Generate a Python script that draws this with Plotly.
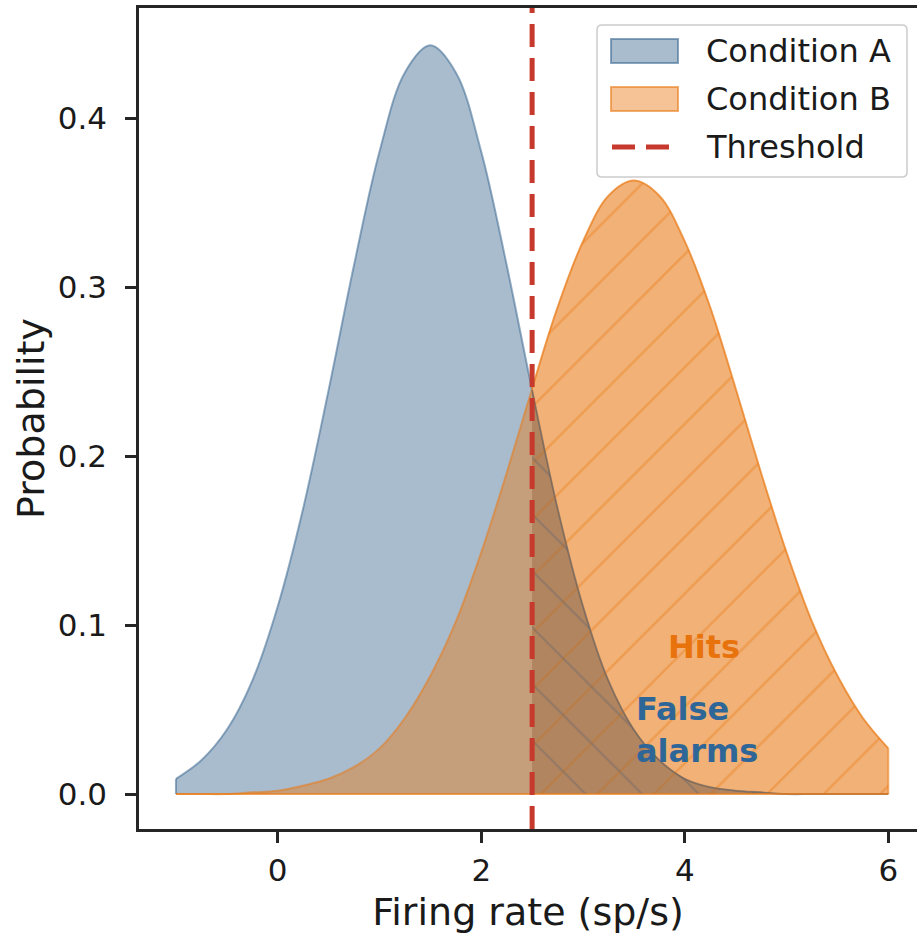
import plotly.graph_objects as go

# ---- data ----
x_vals = [-1.0, -0.75, -0.5, -0.25, 0.0, 0.25, 0.5, 0.75, 1.0, 1.25, 1.5, 1.75,
          2.0, 2.25, 2.5, 2.75, 3.0, 3.25, 3.5, 3.75, 4.0, 4.25, 4.5, 4.75,
          5.0, 5.25, 5.5, 5.75, 6.0]
cond_a = [0.009, 0.020, 0.038, 0.067, 0.111, 0.169, 0.239, 0.313, 0.380, 0.427,
          0.443, 0.427, 0.380, 0.313, 0.239, 0.169, 0.111, 0.067, 0.038, 0.020,
          0.009, 0.004, 0.002, 0.001, 0.000, 0.000, 0.000, 0.000, 0.000]
cond_b = [0.000, 0.000, 0.000, 0.001, 0.002, 0.005, 0.009, 0.016, 0.027, 0.045,
          0.070, 0.102, 0.143, 0.190, 0.240, 0.288, 0.327, 0.354, 0.363, 0.354,
          0.327, 0.288, 0.240, 0.190, 0.143, 0.102, 0.070, 0.045, 0.027]
threshold = 2.5
x_ticks = [0, 2, 4, 6]
y_ticks = [0.0, 0.1, 0.2, 0.3, 0.4]
series_names = ["Condition A", "Condition B", "Threshold"]
hits_label = "Hits"
fa_label = "False<br>alarms"
hits_pos = (4.19, 0.087)
fa_pos = (4.12, 0.038)

BLUE = (62, 106, 146)
ORANGE = (233, 122, 22)
RED = "#c8392d"
FONT = "DejaVu Sans"
DASH = "23px,11px"

# layout geometry (pixels)
W, H = 917, 941
ML, MR, MT, MB = 139, 0, 8, 112
PW, PH = W - ML - MR, H - MT - MB


def rgba(c, a):
    return f"rgba({c[0]},{c[1]},{c[2]},{a})"


def px(xp):
    return (xp - ML) / PW


def py(yp):
    return (H - MB - yp) / PH


x_hi = [x for x in x_vals if x >= threshold]
a_hi = [a for x, a in zip(x_vals, cond_a) if x >= threshold]
b_hi = [b for x, b in zip(x_vals, cond_b) if x >= threshold]

fig = go.Figure()

# full areas
fig.add_trace(go.Scatter(
    x=x_vals, y=cond_a, mode="lines", name=series_names[0],
    line=dict(color=rgba(BLUE, 0.55), width=2, shape="spline"),
    fill="tozeroy", fillcolor=rgba(BLUE, 0.45), hoverinfo="skip"))
fig.add_trace(go.Scatter(
    x=x_vals, y=cond_b, mode="lines", name=series_names[1],
    line=dict(color=rgba(ORANGE, 0.55), width=2, shape="spline"),
    fill="tozeroy", fillcolor=rgba(ORANGE, 0.45), hoverinfo="skip"))

# hatched regions beyond the threshold
fig.add_trace(go.Scatter(
    x=x_hi, y=b_hi, mode="lines", hoverinfo="skip",
    line=dict(color=rgba(ORANGE, 0.4), width=1.5, shape="spline"),
    fill="tozeroy", fillcolor=rgba(ORANGE, 0.25),
    fillpattern=dict(shape="/", size=40, solidity=0.06,
                     fgcolor=rgba(ORANGE, 0.8), bgcolor=rgba(ORANGE, 0.25),
                     fillmode="overlay")))
fig.add_trace(go.Scatter(
    x=x_hi, y=a_hi, mode="lines", hoverinfo="skip",
    line=dict(color="rgba(90,95,105,0.55)", width=1.5, shape="spline"),
    fill="tozeroy", fillcolor=rgba(BLUE, 0.3),
    fillpattern=dict(shape="\\", size=40, solidity=0.05,
                     fgcolor="rgba(85,95,110,0.7)", bgcolor="rgba(100,90,85,0.28)",
                     fillmode="overlay")))

# outline edges (vertical ends and baseline)
fig.add_trace(go.Scatter(
    x=[x_vals[0], x_vals[0]], y=[0, cond_a[0]], mode="lines",
    hoverinfo="skip", line=dict(color=rgba(BLUE, 0.55), width=2)))
fig.add_trace(go.Scatter(
    x=[x_vals[-1], x_vals[-1]], y=[0, cond_b[-1]], mode="lines",
    hoverinfo="skip", line=dict(color=rgba(ORANGE, 0.55), width=2)))
fig.add_trace(go.Scatter(
    x=[x_vals[0], x_vals[-1]], y=[0, 0], mode="lines",
    hoverinfo="skip", line=dict(color=rgba(ORANGE, 0.7), width=2)))

# threshold
fig.add_vline(x=threshold, line=dict(color=RED, width=5, dash=DASH))

fig.add_annotation(x=hits_pos[0], y=hits_pos[1], text=f"<b>{hits_label}</b>",
                   showarrow=False, xanchor="center", yanchor="middle",
                   font=dict(family=FONT, size=32, color="#e8720c"))
fig.add_annotation(x=fa_pos[0], y=fa_pos[1], text=f"<b>{fa_label}</b>",
                   showarrow=False, xanchor="center", yanchor="middle", align="left",
                   font=dict(family=FONT, size=32, color="#2f6698"))

# ---- legend (matplotlib-style box with patches) ----
bx0, bx1, by0, by1, rad = 597, 907, 25, 177, 5
path = (f"M{px(bx0 + rad)},{py(by0)} L{px(bx1 - rad)},{py(by0)} "
        f"Q{px(bx1)},{py(by0)} {px(bx1)},{py(by0 + rad)} "
        f"L{px(bx1)},{py(by1 - rad)} Q{px(bx1)},{py(by1)} {px(bx1 - rad)},{py(by1)} "
        f"L{px(bx0 + rad)},{py(by1)} Q{px(bx0)},{py(by1)} {px(bx0)},{py(by1 - rad)} "
        f"L{px(bx0)},{py(by0 + rad)} Q{px(bx0)},{py(by0)} {px(bx0 + rad)},{py(by0)} Z")
fig.add_shape(type="path", xref="paper", yref="paper", path=path,
              fillcolor="rgba(255,255,255,0.85)", line=dict(color="#cccccc", width=1.5))

row_y = [51, 99, 147]
patch_x0, patch_x1, patch_h = 611, 678, 24
patch_styles = [
    (rgba(BLUE, 0.45), rgba(BLUE, 0.6)),
    (rgba(ORANGE, 0.45), rgba(ORANGE, 0.6)),
]
for (fc, lc), ry in zip(patch_styles, row_y[:2]):
    fig.add_shape(type="rect", xref="paper", yref="paper",
                  x0=px(patch_x0), x1=px(patch_x1),
                  y0=py(ry - patch_h / 2), y1=py(ry + patch_h / 2),
                  fillcolor=fc, line=dict(color=lc, width=2))
fig.add_shape(type="line", xref="paper", yref="paper",
              x0=px(612), x1=px(672), y0=py(row_y[2]), y1=py(row_y[2]),
              line=dict(color=RED, width=5, dash=DASH))
for name, ry in zip(series_names, row_y):
    fig.add_annotation(xref="paper", yref="paper", x=px(704), y=py(ry),
                       text=name, showarrow=False, xanchor="left", yanchor="middle",
                       font=dict(family=FONT, size=32, color="#1a1a1a"))

axis_common = dict(
    showgrid=False, zeroline=False, showline=True, linecolor="#262626",
    linewidth=2.5, ticks="outside", ticklen=11, tickwidth=2.5, tickcolor="#262626",
    tickfont=dict(family=FONT, size=31, color="#1a1a1a"),
)

fig.update_layout(
    width=W, height=H,
    margin=dict(l=ML, r=MR, t=MT, b=MB),
    paper_bgcolor="white", plot_bgcolor="white",
    font=dict(family=FONT, color="#1a1a1a"),
    xaxis=dict(range=[-1.363, 6.282], tickvals=x_ticks, ticktext=[str(t) for t in x_ticks],
               mirror=True, ticklabelstandoff=1,
               title=dict(text="Firing rate (sp/s)", standoff=12,
                          font=dict(family=FONT, size=38, color="#1a1a1a")),
               **axis_common),
    yaxis=dict(range=[-0.0207, 0.4651], tickvals=y_ticks,
               ticktext=[f"{t:.1f}" for t in y_ticks], mirror=False,
               ticklabelstandoff=12,
               title=dict(text="Probability", standoff=2,
                          font=dict(family=FONT, size=38, color="#1a1a1a")),
               **axis_common),
    showlegend=False,
)

fig.write_html("out.html")
